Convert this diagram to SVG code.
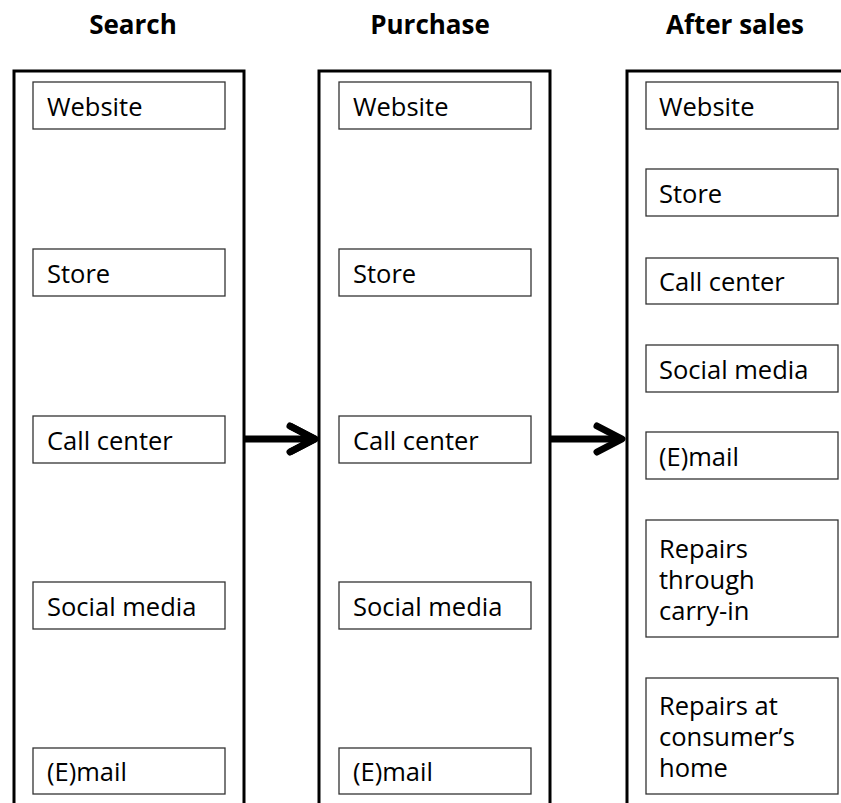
<svg xmlns="http://www.w3.org/2000/svg" width="841" height="803" viewBox="0 0 841 803">
<style>
.col{fill:none;stroke:#000;stroke-width:3}
.box{fill:#fff;stroke:#333;stroke-width:1.3}
.lbl{font-family:"Open Sans","Noto Sans",sans-serif;font-size:25.5px;fill:#000}
.ttl{font-family:"Open Sans","Noto Sans",sans-serif;font-size:26px;font-weight:bold;fill:#000;text-anchor:middle}
.arr{fill:none;stroke:#000;stroke-width:7;stroke-linecap:round;stroke-linejoin:round}
</style>
<rect width="841" height="803" fill="#fff"/>
<g id="titles">
<text class="ttl" x="133" y="34">Search</text>
<text class="ttl" x="430" y="34">Purchase</text>
<text class="ttl" x="735" y="34">After sales</text>
</g>
<g id="col-search">
<path class="col" d="M14,810 V71 H244 V810"/>
<g id="s-website"><rect class="box" x="33" y="82" width="192" height="47"/><text class="lbl" x="47" y="116">Website</text></g>
<g id="s-store"><rect class="box" x="33" y="249" width="192" height="47"/><text class="lbl" x="47" y="283">Store</text></g>
<g id="s-call"><rect class="box" x="33" y="416" width="192" height="47"/><text class="lbl" x="47" y="450">Call center</text></g>
<g id="s-social"><rect class="box" x="33" y="582" width="192" height="47"/><text class="lbl" x="47" y="616">Social media</text></g>
<g id="s-email"><rect class="box" x="33" y="748" width="192" height="46"/><text class="lbl" x="47" y="781">(E)mail</text></g>
</g>
<g id="col-purchase">
<path class="col" d="M319,810 V71 H550 V810"/>
<g id="p-website"><rect class="box" x="339" y="82" width="192" height="47"/><text class="lbl" x="353" y="116">Website</text></g>
<g id="p-store"><rect class="box" x="339" y="249" width="192" height="47"/><text class="lbl" x="353" y="283">Store</text></g>
<g id="p-call"><rect class="box" x="339" y="416" width="192" height="47"/><text class="lbl" x="353" y="450">Call center</text></g>
<g id="p-social"><rect class="box" x="339" y="582" width="192" height="47"/><text class="lbl" x="353" y="616">Social media</text></g>
<g id="p-email"><rect class="box" x="339" y="748" width="192" height="46"/><text class="lbl" x="353" y="781">(E)mail</text></g>
</g>
<g id="col-aftersales">
<path class="col" d="M627,810 V71 H857 V810"/>
<g id="a-website"><rect class="box" x="646" y="82" width="192" height="47"/><text class="lbl" x="659" y="116">Website</text></g>
<g id="a-store"><rect class="box" x="646" y="169" width="192" height="47"/><text class="lbl" x="659" y="203">Store</text></g>
<g id="a-call"><rect class="box" x="646" y="258" width="192" height="46"/><text class="lbl" x="659" y="291">Call center</text></g>
<g id="a-social"><rect class="box" x="646" y="345" width="192" height="47"/><text class="lbl" x="659" y="379">Social media</text></g>
<g id="a-email"><rect class="box" x="646" y="432" width="192" height="47"/><text class="lbl" x="659" y="466">(E)mail</text></g>
<g id="a-carryin"><rect class="box" x="646" y="520" width="192" height="117"/><text class="lbl" x="659" y="558">Repairs</text><text class="lbl" x="659" y="589">through</text><text class="lbl" x="659" y="620">carry-in</text></g>
<g id="a-home"><rect class="box" x="646" y="678" width="192" height="116"/><text class="lbl" x="659" y="715">Repairs at</text><text class="lbl" x="659" y="746">consumer’s</text><text class="lbl" x="659" y="777">home</text></g>
</g>
<g id="connectors">
<path class="arr" d="M244,439 H313 M290,426 L315,439 L290,452" style="stroke-linecap:butt"/>
<path class="arr" d="M290,426 L315,439 L290,452"/>
<path class="arr" d="M550,439 H620" style="stroke-linecap:butt"/>
<path class="arr" d="M597,426 L622,439 L597,452"/>
</g>
</svg>
